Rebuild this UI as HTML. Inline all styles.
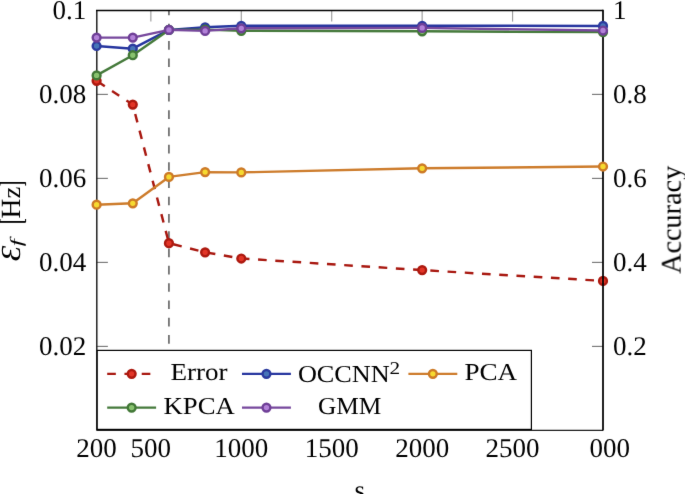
<!DOCTYPE html>
<html><head><meta charset="utf-8"><style>
html,body{margin:0;padding:0;background:#fff;overflow:hidden;}
svg{display:block;will-change:transform;}
</style></head><body>
<svg width="685" height="494" viewBox="0 0 685 494" text-rendering="geometricPrecision">
<defs><filter id="bl" x="0" y="0" width="685" height="494" filterUnits="userSpaceOnUse" color-interpolation-filters="sRGB"><feConvolveMatrix order="3" kernelMatrix="0.00524 0.06192 0.00524 0.06192 0.73137 0.06192 0.00524 0.06192 0.00524" edgeMode="duplicate"/></filter></defs>
<g filter="url(#bl)">
<rect width="685" height="494" fill="#fff"/>
<line x1="168.94" y1="10.4" x2="168.94" y2="430.4" stroke="#4a4a4a" stroke-width="1.4" stroke-dasharray="8.645 8.645" stroke-dashoffset="3.88"/>
<line x1="96.6" y1="346.40" x2="107.89999999999999" y2="346.40" stroke="#7a7a7a" stroke-width="1.15"/>
<line x1="96.6" y1="262.40" x2="107.89999999999999" y2="262.40" stroke="#7a7a7a" stroke-width="1.15"/>
<line x1="96.6" y1="178.40" x2="107.89999999999999" y2="178.40" stroke="#7a7a7a" stroke-width="1.15"/>
<line x1="96.6" y1="94.40" x2="107.89999999999999" y2="94.40" stroke="#7a7a7a" stroke-width="1.15"/>
<line x1="150.86" y1="10.4" x2="150.86" y2="21.6" stroke="#9c9c9c" stroke-width="1.15"/>
<line x1="241.29" y1="10.4" x2="241.29" y2="21.6" stroke="#9c9c9c" stroke-width="1.15"/>
<line x1="331.71" y1="10.4" x2="331.71" y2="21.6" stroke="#9c9c9c" stroke-width="1.15"/>
<line x1="422.14" y1="10.4" x2="422.14" y2="21.6" stroke="#9c9c9c" stroke-width="1.15"/>
<line x1="512.57" y1="10.4" x2="512.57" y2="21.6" stroke="#9c9c9c" stroke-width="1.15"/>
<path d="M96.8,430.4 L96.8,10.4" fill="none" stroke="#1a1a1a" stroke-width="1.45"/>
<path d="M96.6,430.4 L603.0,430.4" fill="none" stroke="#1e1e1e" stroke-width="1.3"/>
<polyline points="96.60,80.80 132.77,104.60 168.94,243.20 205.11,252.30 241.29,258.50 422.14,270.10 603.00,280.90" fill="none" stroke="#a8170f" stroke-width="2.45" stroke-linejoin="round" stroke-dasharray="8.63 8.63" stroke-dashoffset="-1.2"/>
<circle cx="96.60" cy="80.80" r="3.9" fill="#e23527" stroke="#ad190f" stroke-width="2.45"/>
<circle cx="132.77" cy="104.60" r="3.9" fill="#e23527" stroke="#ad190f" stroke-width="2.45"/>
<circle cx="168.94" cy="243.20" r="3.9" fill="#e23527" stroke="#ad190f" stroke-width="2.45"/>
<circle cx="205.11" cy="252.30" r="3.9" fill="#e23527" stroke="#ad190f" stroke-width="2.45"/>
<circle cx="241.29" cy="258.50" r="3.9" fill="#e23527" stroke="#ad190f" stroke-width="2.45"/>
<circle cx="422.14" cy="270.10" r="3.9" fill="#e23527" stroke="#ad190f" stroke-width="2.45"/>
<circle cx="603.00" cy="280.90" r="3.9" fill="#e23527" stroke="#ad190f" stroke-width="2.45"/>

<line x1="592.0" y1="346.40" x2="603.0" y2="346.40" stroke="#7a7a7a" stroke-width="1.15"/>
<line x1="592.0" y1="262.40" x2="603.0" y2="262.40" stroke="#7a7a7a" stroke-width="1.15"/>
<line x1="592.0" y1="178.40" x2="603.0" y2="178.40" stroke="#7a7a7a" stroke-width="1.15"/>
<line x1="592.0" y1="94.40" x2="603.0" y2="94.40" stroke="#7a7a7a" stroke-width="1.15"/>
<path d="M96.0,10.5 L603.0,10.5" fill="none" stroke="#000" stroke-width="1.5"/>
<path d="M603.0,9.65 L603.0,430.4" fill="none" stroke="#000" stroke-width="1.75"/>
<polyline points="96.60,46.00 132.77,48.70 168.94,29.90 205.11,27.30 241.29,25.75 422.14,25.80 603.00,25.90" fill="none" stroke="#26359f" stroke-width="2.45" stroke-linejoin="round"/>
<circle cx="96.60" cy="46.00" r="3.9" fill="#4675b8" stroke="#2b3a9e" stroke-width="2.45"/>
<circle cx="132.77" cy="48.70" r="3.9" fill="#4675b8" stroke="#2b3a9e" stroke-width="2.45"/>
<circle cx="168.94" cy="29.90" r="3.9" fill="#4675b8" stroke="#2b3a9e" stroke-width="2.45"/>
<circle cx="205.11" cy="27.30" r="3.9" fill="#4675b8" stroke="#2b3a9e" stroke-width="2.45"/>
<circle cx="241.29" cy="25.75" r="3.9" fill="#4675b8" stroke="#2b3a9e" stroke-width="2.45"/>
<circle cx="422.14" cy="25.80" r="3.9" fill="#4675b8" stroke="#2b3a9e" stroke-width="2.45"/>
<circle cx="603.00" cy="25.90" r="3.9" fill="#4675b8" stroke="#2b3a9e" stroke-width="2.45"/>

<polyline points="96.60,204.70 132.77,203.30 168.94,176.90 205.11,172.10 241.29,172.40 422.14,168.30 603.00,166.50" fill="none" stroke="#cd7c2c" stroke-width="2.45" stroke-linejoin="round"/>
<circle cx="96.60" cy="204.70" r="3.9" fill="#f6da30" stroke="#cd7a26" stroke-width="2.45"/>
<circle cx="132.77" cy="203.30" r="3.9" fill="#f6da30" stroke="#cd7a26" stroke-width="2.45"/>
<circle cx="168.94" cy="176.90" r="3.9" fill="#f6da30" stroke="#cd7a26" stroke-width="2.45"/>
<circle cx="205.11" cy="172.10" r="3.9" fill="#f6da30" stroke="#cd7a26" stroke-width="2.45"/>
<circle cx="241.29" cy="172.40" r="3.9" fill="#f6da30" stroke="#cd7a26" stroke-width="2.45"/>
<circle cx="422.14" cy="168.30" r="3.9" fill="#f6da30" stroke="#cd7a26" stroke-width="2.45"/>
<circle cx="603.00" cy="166.50" r="3.9" fill="#f6da30" stroke="#cd7a26" stroke-width="2.45"/>

<polyline points="96.60,75.40 132.77,55.20 168.94,29.90 205.11,29.60 241.29,30.80 422.14,31.30 603.00,32.10" fill="none" stroke="#457a3b" stroke-width="2.45" stroke-linejoin="round"/>
<circle cx="96.60" cy="75.40" r="3.9" fill="#88c26e" stroke="#427837" stroke-width="2.45"/>
<circle cx="132.77" cy="55.20" r="3.9" fill="#88c26e" stroke="#427837" stroke-width="2.45"/>
<circle cx="168.94" cy="29.90" r="3.9" fill="#88c26e" stroke="#427837" stroke-width="2.45"/>
<circle cx="205.11" cy="29.60" r="3.9" fill="#88c26e" stroke="#427837" stroke-width="2.45"/>
<circle cx="241.29" cy="30.80" r="3.9" fill="#88c26e" stroke="#427837" stroke-width="2.45"/>
<circle cx="422.14" cy="31.30" r="3.9" fill="#88c26e" stroke="#427837" stroke-width="2.45"/>
<circle cx="603.00" cy="32.10" r="3.9" fill="#88c26e" stroke="#427837" stroke-width="2.45"/>

<polyline points="96.60,37.60 132.77,37.60 168.94,29.90 205.11,30.90 241.29,28.30 422.14,27.90 603.00,30.50" fill="none" stroke="#77489d" stroke-width="2.45" stroke-linejoin="round"/>
<circle cx="96.60" cy="37.60" r="3.9" fill="#b281d8" stroke="#6f3f97" stroke-width="2.45"/>
<circle cx="132.77" cy="37.60" r="3.9" fill="#b281d8" stroke="#6f3f97" stroke-width="2.45"/>
<circle cx="168.94" cy="29.90" r="3.9" fill="#b281d8" stroke="#6f3f97" stroke-width="2.45"/>
<circle cx="205.11" cy="30.90" r="3.9" fill="#b281d8" stroke="#6f3f97" stroke-width="2.45"/>
<circle cx="241.29" cy="28.30" r="3.9" fill="#b281d8" stroke="#6f3f97" stroke-width="2.45"/>
<circle cx="422.14" cy="27.90" r="3.9" fill="#b281d8" stroke="#6f3f97" stroke-width="2.45"/>
<circle cx="603.00" cy="30.50" r="3.9" fill="#b281d8" stroke="#6f3f97" stroke-width="2.45"/>

<rect x="97.2" y="350.4" width="434.2" height="79.0" fill="#fff" stroke="#000" stroke-width="1.2"/>
<line x1="107.20" y1="373.85" x2="156.10" y2="373.85" stroke="#a8170f" stroke-width="2.45" stroke-dasharray="8.63 8.63"/>
<circle cx="131.65" cy="373.85" r="3.9" fill="#e23527" stroke="#ad190f" stroke-width="2.45"/>

<line x1="242.00" y1="373.85" x2="290.90" y2="373.85" stroke="#26359f" stroke-width="2.45"/>
<circle cx="266.45" cy="373.85" r="3.9" fill="#4675b8" stroke="#2b3a9e" stroke-width="2.45"/>

<line x1="408.40" y1="373.85" x2="457.30" y2="373.85" stroke="#cd7c2c" stroke-width="2.45"/>
<circle cx="432.85" cy="373.85" r="3.9" fill="#f6da30" stroke="#cd7a26" stroke-width="2.45"/>

<line x1="107.20" y1="407.6" x2="156.10" y2="407.6" stroke="#457a3b" stroke-width="2.45"/>
<circle cx="131.65" cy="407.60" r="3.9" fill="#88c26e" stroke="#427837" stroke-width="2.45"/>

<line x1="242.00" y1="407.6" x2="290.90" y2="407.6" stroke="#77489d" stroke-width="2.45"/>
<circle cx="266.45" cy="407.60" r="3.9" fill="#b281d8" stroke="#6f3f97" stroke-width="2.45"/>

<text x="199.0" y="379.9" font-family='"Liberation Serif", serif' font-size="24.3" text-anchor="middle" fill="#000" transform="matrix(1.115,0,0,1,-22.885,0)">Error</text>
<text x="343.85" y="381.5" font-family='"Liberation Serif", serif' font-size="24.3" text-anchor="middle" fill="#000" transform="matrix(1.08,0,0,1,-27.508,0)">OCCNN</text>
<text x="389.6" y="373.8" font-family='"Liberation Serif", serif' font-size="18" text-anchor="start" fill="#000" transform="matrix(1.18,0,0,1,-70.128,0)">2</text>
<text x="490.8" y="379.6" font-family='"Liberation Serif", serif' font-size="24.3" text-anchor="middle" fill="#000" transform="matrix(1.115,0,0,1,-56.442,0)">PCA</text>
<text x="199.15" y="414.2" font-family='"Liberation Serif", serif' font-size="24.3" text-anchor="middle" fill="#000" transform="matrix(1.1,0,0,1,-19.915,0)">KPCA</text>
<text x="349.65" y="413.7" font-family='"Liberation Serif", serif' font-size="24.3" text-anchor="middle" fill="#000" transform="matrix(1.044,0,0,1,-15.385,0)">GMM</text>
<text x="86.3" y="18.49999999999998" font-family='"Liberation Serif", serif' font-size="27" text-anchor="end" fill="#000">0.1</text>
<text x="86.3" y="102.49999999999997" font-family='"Liberation Serif", serif' font-size="27" text-anchor="end" fill="#000">0.08</text>
<text x="86.3" y="186.49999999999997" font-family='"Liberation Serif", serif' font-size="27" text-anchor="end" fill="#000">0.06</text>
<text x="86.3" y="270.5" font-family='"Liberation Serif", serif' font-size="27" text-anchor="end" fill="#000">0.04</text>
<text x="86.3" y="354.5" font-family='"Liberation Serif", serif' font-size="27" text-anchor="end" fill="#000">0.02</text>
<text x="612.9" y="18.599999999999977" font-family='"Liberation Serif", serif' font-size="27" text-anchor="start" fill="#000">1</text>
<text x="612.9" y="102.59999999999998" font-family='"Liberation Serif", serif' font-size="27" text-anchor="start" fill="#000">0.8</text>
<text x="612.9" y="186.59999999999997" font-family='"Liberation Serif", serif' font-size="27" text-anchor="start" fill="#000">0.6</text>
<text x="612.9" y="270.59999999999997" font-family='"Liberation Serif", serif' font-size="27" text-anchor="start" fill="#000">0.4</text>
<text x="612.9" y="354.59999999999997" font-family='"Liberation Serif", serif' font-size="27" text-anchor="start" fill="#000">0.2</text>
<text x="96.60" y="457.45" font-family='"Liberation Serif", serif' font-size="27" text-anchor="middle" fill="#000">200</text>
<text x="150.86" y="457.45" font-family='"Liberation Serif", serif' font-size="27" text-anchor="middle" fill="#000">500</text>
<text x="241.29" y="457.45" font-family='"Liberation Serif", serif' font-size="27" text-anchor="middle" fill="#000">1000</text>
<text x="331.71" y="457.45" font-family='"Liberation Serif", serif' font-size="27" text-anchor="middle" fill="#000">1500</text>
<text x="422.14" y="457.45" font-family='"Liberation Serif", serif' font-size="27" text-anchor="middle" fill="#000">2000</text>
<text x="512.57" y="457.45" font-family='"Liberation Serif", serif' font-size="27" text-anchor="middle" fill="#000">2500</text>
<text x="609.7" y="457.45" font-family='"Liberation Serif", serif' font-size="27" text-anchor="middle" fill="#000">000</text>
<text x="359.8" y="499" font-family='"Liberation Serif", serif' font-size="27" text-anchor="middle" fill="#000">s</text>
<text transform="translate(680.6,219.85) rotate(-90) scale(0.995,1)" x="0" y="0" font-family='"Liberation Serif", serif' font-size="28.4" text-anchor="middle" fill="#000">Accuracy</text>
<text transform="translate(19.53,260.50) rotate(-90) scale(1.136,1)" x="-0.73" y="0" font-family='"Liberation Serif", serif' font-size="27.51" font-style="italic" fill="#000">&#x190;</text>
<text transform="translate(22.21,245.90) rotate(-90) scale(1.465,1)" x="-0.19" y="0" font-family='"Liberation Serif", serif' font-size="17.34" font-style="italic" fill="#000">f</text>
<text transform="translate(19.70,217.60) rotate(-90) scale(0.991,1)" x="-0.80" y="0" font-family='"Liberation Serif", serif' font-size="27.80" fill="#000">H</text>
<text transform="translate(19.90,197.90) rotate(-90) scale(1.031,1)" x="-0.70" y="0" font-family='"Liberation Serif", serif' font-size="25.93" fill="#000">z</text>
<path d="M0.0,219.0 V222.0 H25.6 V219.0" fill="none" stroke="#000" stroke-width="1.0"/>
<path d="M-1,221.85 H25.6" fill="none" stroke="#000" stroke-width="1.6"/>
<path d="M0.0,185.6 V182.7 H25.6 V185.6" fill="none" stroke="#000" stroke-width="1.0"/>
<path d="M-1,182.9 H25.6" fill="none" stroke="#000" stroke-width="1.6"/>
</g></svg>
</body></html>
